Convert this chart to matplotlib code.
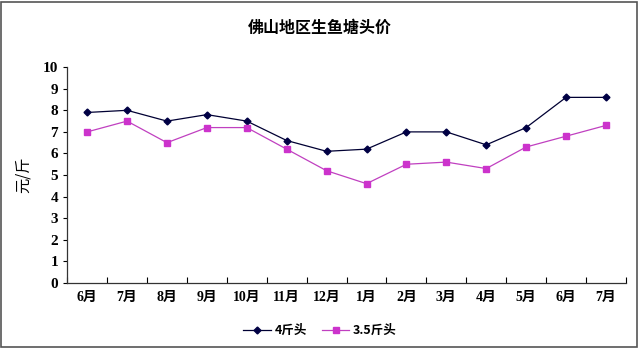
import matplotlib
matplotlib.use("Agg")
import matplotlib.pyplot as plt
from matplotlib.patches import Rectangle

plt.rcParams['font.family'] = ['Noto Sans CJK SC', 'DejaVu Sans']
serif_mix = ['Liberation Serif', 'Noto Sans CJK SC']

months = ['6月', '7月', '8月', '9月', '10月', '11月', '12月',
          '1月', '2月', '3月', '4月', '5月', '6月', '7月']
price_4jin = [7.9, 8.0, 7.5, 7.8, 7.5, 6.6, 6.1, 6.2, 7.0, 7.0, 6.4, 7.2, 8.6, 8.6]
price_35jin = [7.0, 7.5, 6.5, 7.2, 7.2, 6.2, 5.2, 4.6, 5.5, 5.6, 5.3, 6.3, 6.8, 7.3]

fig = plt.figure(figsize=(6.4, 3.48), dpi=100)
ax = fig.add_axes([0.105, 0.187, 0.873, 0.62])

x = list(range(len(months)))
ax.plot(x, price_4jin, color='#000033', lw=0.9, marker='D', ms=3.5,
        mfc='#000044', mec='#000044', label='4斤头')
ax.plot(x, price_35jin, color='#c040c0', lw=0.9, marker='s', ms=4,
        mfc='#cc33cc', mec='#cc33cc', label='3.5斤头')

ax.set_xlim(-0.5, len(months) - 0.5)
ax.set_ylim(0, 10)
ax.set_yticks(range(0, 11))
ax.set_xticks(x)
ax.set_xticklabels(months, fontsize=10, fontweight='bold', family=serif_mix)
ax.set_xticks([i + 0.5 for i in range(-1, len(months))], minor=True)
ax.tick_params(axis='x', which='major', length=0, pad=6)
ax.tick_params(axis='x', which='minor', direction='in', length=4, width=0.8)
ax.tick_params(axis='y', direction='out', length=3, width=0.8, labelsize=11)
for lab in ax.get_yticklabels():
    lab.set_fontweight('bold')
    lab.set_family(serif_mix)

for s in ['top', 'right']:
    ax.spines[s].set_visible(False)
for s in ['left', 'bottom']:
    ax.spines[s].set_color('#333333')
    ax.spines[s].set_linewidth(0.9)

ax.set_ylabel('元/斤', fontsize=11, labelpad=8)

fig.text(0.5, 0.92, '佛山地区生鱼塘头价', ha='center', va='center',
         fontsize=11.5, fontweight='bold')

fig.legend(loc='center', bbox_to_anchor=(0.5, 0.05), ncol=2, frameon=False,
           prop={'size': 9, 'weight': 'bold'}, handlelength=2.2,
           columnspacing=1.2, handletextpad=0.3)

fig.patches.append(Rectangle((0.002, 0.004), 0.994, 0.99, transform=fig.transFigure,
                             fill=False, edgecolor='#555555', lw=1.2))

fig.savefig('out.png', dpi=100)
